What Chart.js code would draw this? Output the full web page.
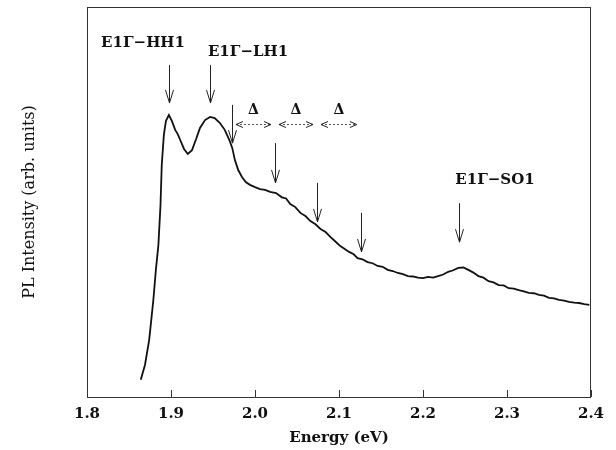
<!DOCTYPE html>
<html>
<head>
<meta charset="utf-8">
<script src="https://cdn.jsdelivr.net/npm/chart.js@4.4.1/dist/chart.umd.min.js"></script>
<style>
  html, body { margin: 0; padding: 0; background: #fff; }
  #wrap { width: 616px; height: 450px; }
</style>
</head>
<body>
<div id="wrap"><canvas id="plChart"></canvas></div>
<script>
// PL spectrum
const energy = [1.864, 1.869, 1.874, 1.879, 1.882, 1.885, 1.8875, 1.889, 1.8915, 1.894, 1.8975, 1.901, 1.905, 1.908, 1.911, 1.9155, 1.920, 1.925, 1.930, 1.9345, 1.9405, 1.9465, 1.952, 1.958, 1.964, 1.970, 1.973, 1.976, 1.980, 1.9845, 1.989, 1.994, 2.000, 2.006, 2.012, 2.018, 2.025, 2.032, 2.037, 2.042, 2.048, 2.054, 2.060, 2.066, 2.072, 2.078, 2.084, 2.090, 2.096, 2.1015, 2.106, 2.112, 2.1175, 2.122, 2.128, 2.134, 2.140, 2.146, 2.152, 2.158, 2.164, 2.170, 2.176, 2.182, 2.188, 2.194, 2.200, 2.206, 2.212, 2.218, 2.224, 2.230, 2.236, 2.242, 2.248, 2.254, 2.260, 2.266, 2.272, 2.278, 2.284, 2.290, 2.296, 2.302, 2.308, 2.314, 2.320, 2.326, 2.332, 2.338, 2.344, 2.350, 2.356, 2.362, 2.368, 2.374, 2.380, 2.386, 2.392, 2.398];
const intensity = [4.4, 8.2, 14.6, 24.9, 32.6, 39.0, 49.2, 59.5, 67.2, 70.8, 72.3, 70.8, 68.5, 67.4, 65.9, 63.6, 62.3, 63.3, 66.2, 69.0, 71.0, 71.8, 71.5, 70.3, 68.5, 65.6, 63.8, 60.8, 58.2, 56.4, 55.1, 54.4, 53.8, 53.3, 53.1, 52.6, 52.3, 51.2, 50.9, 49.5, 48.7, 47.2, 46.4, 45.1, 44.3, 43.1, 42.3, 41.0, 39.8, 38.7, 38.1, 37.2, 36.6, 35.6, 35.3, 34.6, 34.3, 33.6, 33.4, 32.6, 32.3, 31.8, 31.5, 31.0, 30.9, 30.6, 30.5, 30.8, 30.6, 31.0, 31.4, 32.1, 32.5, 33.1, 33.2, 32.6, 31.9, 31.0, 30.6, 29.7, 29.4, 28.7, 28.6, 27.9, 27.8, 27.4, 27.1, 26.7, 26.6, 26.2, 26.0, 25.4, 25.3, 24.9, 24.7, 24.4, 24.2, 24.1, 23.8, 23.6];

// x tick labels
const xMin = 1.8, xMax = 2.4, xStep = 0.1;

// marker arrows (energy, top and tip of the arrow in intensity units)
const arrowE = [1.8976, 1.947, 1.9726, 2.0238, 2.0738, 2.126, 2.2429];
const arrowTop = [85.1, 85.1, 74.9, 65.1, 54.9, 47.2, 49.7];
const arrowTip = [75.4, 75.4, 65.1, 54.9, 44.9, 37.2, 39.7];

// Delta spacing markers
const deltaE = [1.9726, 2.0238, 2.0738, 2.126];
const deltaLineY = 70.0;
const deltaLabelY = 73.6;

// transition labels
const labelText = ['E1\u0393\u2212HH1', 'E1\u0393\u2212LH1', 'E1\u0393\u2212SO1'];
const labelE = [1.8667, 1.9917, 2.2857];
const labelY = [90.8, 88.5, 55.6];

const serif = '"DejaVu Serif", "Liberation Serif", serif';

const extras = {
  id: 'extras',
  afterDatasetsDraw(chart) {
    const { ctx, chartArea: a, scales: { x, y } } = chart;
    ctx.save();
    // frame
    ctx.strokeStyle = '#333';
    ctx.lineWidth = 1;
    ctx.strokeRect(a.left + 0.5, a.top + 0.5, a.right - a.left - 1, a.bottom - a.top);
    // inward ticks on the energy axis
    x.ticks.forEach(t => {
      const px = Math.round(x.getPixelForValue(t.value)) + 0.5;
      ctx.beginPath();
      ctx.moveTo(px, a.bottom);
      ctx.lineTo(px, a.bottom - 7);
      ctx.stroke();
    });

    // vertical arrows
    ctx.strokeStyle = '#222';
    ctx.lineWidth = 1;
    arrowE.forEach((e, i) => {
      const px = Math.round(x.getPixelForValue(e)) + 0.5;
      const y0 = y.getPixelForValue(arrowTop[i]);
      const y1 = y.getPixelForValue(arrowTip[i]);
      ctx.beginPath();
      ctx.moveTo(px, y0);
      ctx.lineTo(px, y1);
      ctx.moveTo(px - 4, y1 - 13);
      ctx.lineTo(px, y1);
      ctx.lineTo(px + 4, y1 - 13);
      ctx.stroke();
    });

    // dotted double arrows with Delta
    const yd = Math.round(y.getPixelForValue(deltaLineY)) + 0.5;
    ctx.fillStyle = '#111';
    ctx.font = 'bold 14px ' + serif;
    ctx.textAlign = 'center';
    ctx.textBaseline = 'middle';
    for (let i = 0; i < deltaE.length - 1; i++) {
      const xa = x.getPixelForValue(deltaE[i]) + 4;
      const xb = x.getPixelForValue(deltaE[i + 1]) - 4;
      ctx.setLineDash([2, 2]);
      ctx.strokeStyle = '#555';
      ctx.beginPath();
      ctx.moveTo(xa, yd);
      ctx.lineTo(xb, yd);
      ctx.stroke();
      ctx.setLineDash([]);
      ctx.strokeStyle = '#222';
      ctx.beginPath();
      ctx.moveTo(xa + 7, yd - 3);
      ctx.lineTo(xa, yd);
      ctx.lineTo(xa + 7, yd + 3);
      ctx.moveTo(xb - 7, yd - 3);
      ctx.lineTo(xb, yd);
      ctx.lineTo(xb - 7, yd + 3);
      ctx.stroke();
      ctx.fillText('\u0394', (xa + xb) / 2, y.getPixelForValue(deltaLabelY));
    }

    // transition labels
    ctx.font = 'bold 15px ' + serif;
    labelText.forEach((s, i) => {
      ctx.fillText(s, x.getPixelForValue(labelE[i]), y.getPixelForValue(labelY[i]));
    });
    ctx.restore();
  }
};

const ctxPL = document.getElementById('plChart').getContext('2d');
const plChart = new Chart(ctxPL, {
  type: 'line',
  data: {
    datasets: [{
      label: 'PL',
      data: energy.map((e, i) => ({ x: e, y: intensity[i] })),
      borderColor: '#111',
      borderWidth: 1.8,
      pointRadius: 0,
      tension: 0,
      fill: false,
    }]
  },
  options: {
    responsive: true,
    maintainAspectRatio: false,
    animation: false,
    layout: { padding: { left: 0, top: 7, right: 25, bottom: 0 } },
    scales: {
      x: {
        type: 'linear',
        min: xMin,
        max: xMax,
        grid: { display: false, drawTicks: false },
        border: { display: false },
        ticks: {
          stepSize: xStep,
          padding: 8,
          color: '#111',
          font: { family: serif, size: 15, weight: 'bold' },
          callback: v => v.toFixed(1),
        },
        title: {
          display: true,
          text: 'Energy (eV)',
          color: '#111',
          font: { family: serif, size: 15, weight: 'bold' },
          padding: { top: 0, bottom: 3 },
        },
        afterFit: s => { s.height = 53; },
      },
      y: {
        min: 0,
        max: 100,
        grid: { display: false, drawTicks: false },
        border: { display: false },
        ticks: { display: false },
        title: {
          display: true,
          text: 'PL Intensity (arb. units)',
          color: '#111',
          font: { family: serif, size: 16 },
          padding: { top: 20, bottom: 0 },
        },
        afterFit: s => { s.width = 87; },
      }
    },
    plugins: {
      legend: { display: false },
      tooltip: { enabled: false },
    }
  },
  plugins: [extras]
});
</script>
</body>
</html>
